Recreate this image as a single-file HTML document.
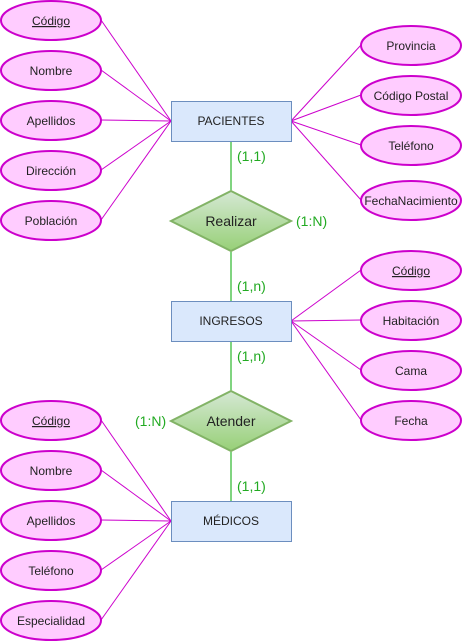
<!DOCTYPE html>
<html><head><meta charset="utf-8"><style>
html,body{margin:0;padding:0;background:#fff;}
svg{display:block;}
text{font-family:"Liberation Sans",Arial,sans-serif;}
</style></head><body>
<svg width="462" height="642" viewBox="0 0 462 642" xmlns="http://www.w3.org/2000/svg">
<defs>
<linearGradient id="g" x1="0" y1="0" x2="0" y2="1">
<stop offset="0" stop-color="#d5e8d4"/><stop offset="1" stop-color="#97d077"/>
</linearGradient>
</defs>
<g stroke="#cc00cc" stroke-width="1">
<line x1="101" y1="20" x2="171" y2="121"/>
<line x1="101" y1="70" x2="171" y2="121"/>
<line x1="101" y1="120" x2="171" y2="121"/>
<line x1="101" y1="170" x2="171" y2="121"/>
<line x1="101" y1="220" x2="171" y2="121"/>
<line x1="361" y1="45" x2="291" y2="121"/>
<line x1="361" y1="95" x2="291" y2="121"/>
<line x1="361" y1="145" x2="291" y2="121"/>
<line x1="361" y1="200" x2="291" y2="121"/>
<line x1="361" y1="270" x2="291" y2="321"/>
<line x1="361" y1="320" x2="291" y2="321"/>
<line x1="361" y1="370" x2="291" y2="321"/>
<line x1="361" y1="420" x2="291" y2="321"/>
<line x1="101" y1="420" x2="171" y2="521"/>
<line x1="101" y1="470" x2="171" y2="521"/>
<line x1="101" y1="520" x2="171" y2="521"/>
<line x1="101" y1="570" x2="171" y2="521"/>
<line x1="101" y1="620" x2="171" y2="521"/>
</g>
<g stroke="#00aa00" stroke-width="1">
<line x1="231" y1="141" x2="231" y2="191"/>
<line x1="231" y1="251" x2="231" y2="301"/>
<line x1="231" y1="341" x2="231" y2="391"/>
<line x1="231" y1="451" x2="231" y2="501"/>
</g>
<g fill="#ffccff" stroke="#cc00cc" stroke-width="2">
<ellipse cx="51" cy="20.5" rx="50" ry="19.5"/>
<ellipse cx="51" cy="70.5" rx="50" ry="19.5"/>
<ellipse cx="51" cy="120.5" rx="50" ry="19.5"/>
<ellipse cx="51" cy="170.5" rx="50" ry="19.5"/>
<ellipse cx="51" cy="220.5" rx="50" ry="19.5"/>
<ellipse cx="411" cy="45.5" rx="50" ry="19.5"/>
<ellipse cx="411" cy="95.5" rx="50" ry="19.5"/>
<ellipse cx="411" cy="145.5" rx="50" ry="19.5"/>
<ellipse cx="411" cy="200.5" rx="50" ry="19.5"/>
<ellipse cx="411" cy="270.5" rx="50" ry="19.5"/>
<ellipse cx="411" cy="320.5" rx="50" ry="19.5"/>
<ellipse cx="411" cy="370.5" rx="50" ry="19.5"/>
<ellipse cx="411" cy="420.5" rx="50" ry="19.5"/>
<ellipse cx="51" cy="420.5" rx="50" ry="19.5"/>
<ellipse cx="51" cy="470.5" rx="50" ry="19.5"/>
<ellipse cx="51" cy="520.5" rx="50" ry="19.5"/>
<ellipse cx="51" cy="570.5" rx="50" ry="19.5"/>
<ellipse cx="51" cy="620.5" rx="50" ry="19.5"/>
</g>
<g fill="#dae8fc" stroke="#6c8ebf" stroke-width="1">
<rect x="171.5" y="101.5" width="120" height="40"/>
<rect x="171.5" y="301.5" width="120" height="40"/>
<rect x="171.5" y="501.5" width="120" height="40"/>
</g>
<g fill="url(#g)" stroke="#82b366" stroke-width="2">
<polygon points="231,191 291,221 231,251 171,221"/>
<polygon points="231,391 291,421 231,451 171,421"/>
</g>
<g font-size="12" fill="#222" text-anchor="middle">
<text x="51" y="25" text-decoration="underline">Código</text>
<text x="51" y="75">Nombre</text>
<text x="51" y="125">Apellidos</text>
<text x="51" y="175">Dirección</text>
<text x="51" y="225">Población</text>
<text x="411" y="50">Provincia</text>
<text x="411" y="100">Código Postal</text>
<text x="411" y="150">Teléfono</text>
<text x="411" y="205">FechaNacimiento</text>
<text x="411" y="275" text-decoration="underline">Código</text>
<text x="411" y="325">Habitación</text>
<text x="411" y="375">Cama</text>
<text x="411" y="425">Fecha</text>
<text x="51" y="425" text-decoration="underline">Código</text>
<text x="51" y="475">Nombre</text>
<text x="51" y="525">Apellidos</text>
<text x="51" y="575">Teléfono</text>
<text x="51" y="625">Especialidad</text>
<text x="231" y="125">PACIENTES</text>
<text x="231" y="325">INGRESOS</text>
<text x="231" y="525">MÉDICOS</text>
</g>
<g font-size="14" fill="#222" text-anchor="middle">
<text x="231" y="226">Realizar</text>
<text x="231" y="426">Atender</text>
</g>
<g font-size="14" fill="#22aa22">
<text x="237" y="161">(1,1)</text>
<text x="296" y="226">(1:N)</text>
<text x="237" y="291">(1,n)</text>
<text x="237" y="361">(1,n)</text>
<text x="135" y="426">(1:N)</text>
<text x="237" y="491">(1,1)</text>
</g>
</svg>
</body></html>
